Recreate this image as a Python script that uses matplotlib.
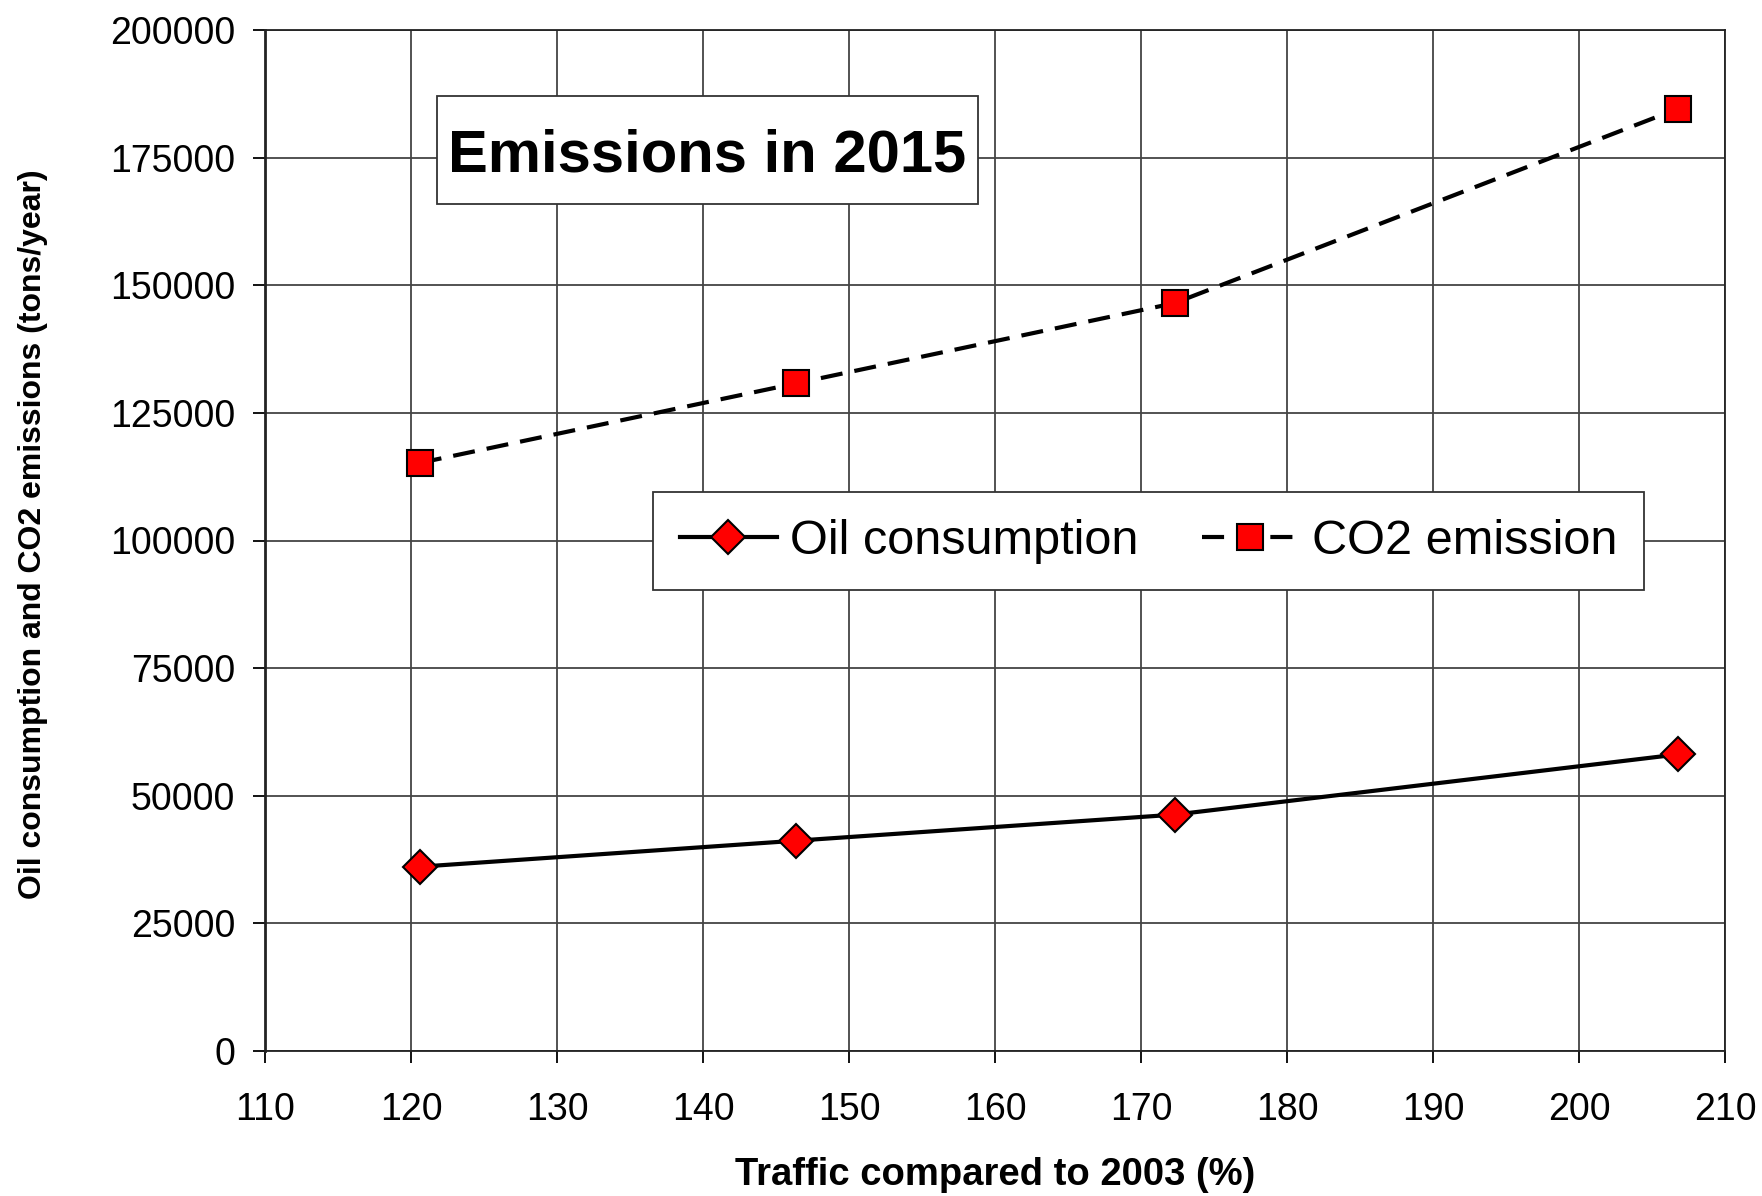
import numpy as np
import matplotlib.pyplot as plt
from matplotlib.patches import Rectangle

plt.rcParams['font.family'] = ['Liberation Sans', 'DejaVu Sans']

# data
traffic = [120.6, 146.4, 172.3, 206.8]
oil = [36100, 41200, 46300, 58100]
co2 = [115200, 130800, 146500, 184600]

xticks = np.arange(110, 211, 10)
yticks = np.arange(0, 200001, 25000)

W, H = 1762, 1196
fig = plt.figure(figsize=(W/100, H/100), dpi=100)
ax = fig.add_axes([265/W, 1-1051/H, (1725-265)/W, (1051-30)/H])

ax.plot(traffic, oil, color='black', lw=3, marker='D', ms=17,
        mfc='red', mec='black', mew=1.5, label='Oil consumption', zorder=3)
ax.plot(traffic, co2, color='black', lw=3, ls=(0, (5.3, 2.9)), marker='s', ms=19,
        mfc='red', mec='black', mew=1.5, label='CO2 emission', zorder=3)

ax.set_xlim(110, 210)
ax.set_ylim(0, 200000)
ax.set_xticks(xticks)
ax.set_yticks(yticks)
ax.grid(True, color='#444444', lw=1.3)
ax.set_axisbelow(True)
for s in ax.spines.values():
    s.set_linewidth(1.3)
    s.set_color('#222222')
ax.spines['left'].set_linewidth(2)
ax.tick_params(labelsize=27, length=8.5, width=1.3, direction='out')
ax.tick_params(axis='x', pad=21)
ax.tick_params(axis='y', pad=13)

ax.set_xlabel('Traffic compared to 2003 (%)', fontsize=27.5, fontweight='bold', labelpad=21)
ax.set_ylabel('Oil consumption and CO2 emissions (tons/year)', fontsize=23,
              fontweight='bold')
ax.yaxis.set_label_coords(-(265-48)/(1725-265), (1051-(169+900)/2)/(1051-30))

# title box
fig.patches.append(Rectangle((437/W, 1-204/H), (978-437)/W, (204-96)/H,
                             transform=fig.transFigure, fc='white', ec='#333333',
                             lw=1.3, zorder=5))
fig.text(707/W, 1-172/H, 'Emissions in 2015', fontsize=43, fontweight='bold',
         ha='center', va='baseline', zorder=6)

leg = ax.legend(loc='upper left', bbox_to_anchor=(653/W, 1-492/H),
                bbox_transform=fig.transFigure, ncol=2, fontsize=35,
                frameon=True, fancybox=False, edgecolor='#333333', framealpha=1,
                handlelength=2.0, columnspacing=1.3, borderpad=0.55,
                handletextpad=0.27, borderaxespad=0)
leg.get_frame().set_linewidth(1.3)

fig.savefig('out.png', dpi=100)
